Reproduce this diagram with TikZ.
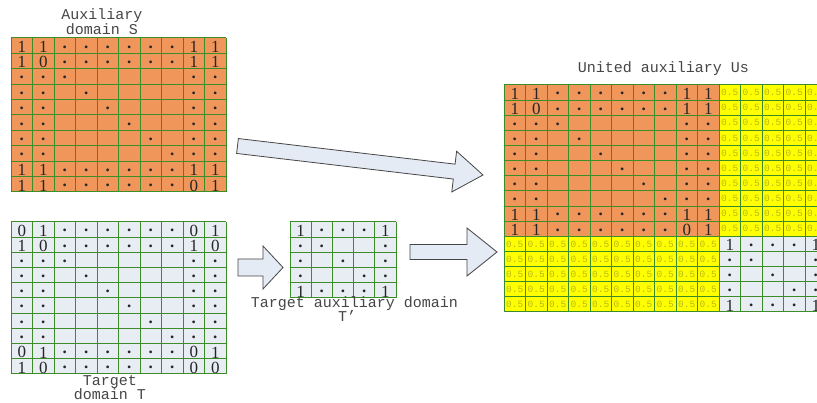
\documentclass[tikz,border=0pt]{standalone}
\usepackage{fontspec}
\setmainfont{Liberation Serif}
\newfontfamily\labelfont{Liberation Mono}
\usetikzlibrary{calc}

\definecolor{cellorange}{RGB}{240,150,90}
\definecolor{cellyellow}{RGB}{255,255,0}
\definecolor{celllight}{RGB}{232,237,243}
\definecolor{gridgreen}{RGB}{60,140,40}
\definecolor{halftext}{RGB}{185,185,20}
\definecolor{labelgray}{RGB}{70,70,70}
\definecolor{arrowfill}{RGB}{228,235,245}
\definecolor{arrowline}{RGB}{70,70,70}

\tikzset{
  gridline/.style={draw=gridgreen, line width=1pt},
  celltxt/.style={inner sep=0pt, font=\fontsize{17}{17}\selectfont, text=black!85},
  halftxt/.style={inner sep=0pt, font=\labelfont\fontsize{9.5}{9.5}\selectfont, text=halftext},
  caption/.style={inner sep=0pt, anchor=base, font=\labelfont\fontsize{15}{15}\selectfont, text=labelgray},
  blockarrow/.style={fill=arrowfill, draw=arrowline, line width=0.8pt, line join=miter},
}

% a dot entry is set heavier than the digits
\def\dotitem{.}
\def\cellentry#1{\ifx#1\dotitem\textbf{.}\else#1\fi}

% grid lines: x0, y0, columns, rows, cell width, cell height
\newcommand\cellgrid[6]{%
  \foreach \i in {0,...,#3} \draw[gridline] ({#1+\i*#5},#2) -- ({#1+\i*#5},{#2+#4*#6});
  \foreach \j in {0,...,#4} \draw[gridline] (#1,{#2+\j*#6}) -- ({#1+#3*#5},{#2+\j*#6});
}
% cell entries: name prefix, x0, y0, cell width, cell height, list of rows
\newcommand\celltext[6]{%
  \foreach \rowlist [count=\r] in #6 {
    \foreach \v [count=\c] in \rowlist {
      \node[celltxt] (#1-\r-\c) at ({#2+(\c-0.5)*#4},{#3+(\r-0.42)*#5}) {\cellentry\v};
    }
  }
}
% block arrow: tail, tip, shaft half width, head half width, head length
\newcommand\blockarrow[5]{%
  \path ($(#2)!#5!(#1)$) coordinate (#2-base);
  \draw[blockarrow] ($(#1)!#3!90:(#2)$) -- ($(#2-base)!#3!90:(#2)$)
    -- ($(#2-base)!#4!90:(#2)$) -- (#2) -- ($(#2-base)!#4!-90:(#2)$)
    -- ($(#2-base)!#3!-90:(#2)$) -- ($(#1)!#3!-90:(#2)$) -- cycle;
}

\newcommand\srows{%
  {1,1,.,.,.,.,.,.,1,1},
  {1,0,.,.,.,.,.,.,1,1},
  {.,.,.,{},{},{},{},{},.,.},
  {.,.,{},.,{},{},{},{},.,.},
  {.,.,{},{},.,{},{},{},.,.},
  {.,.,{},{},{},.,{},{},.,.},
  {.,.,{},{},{},{},.,{},.,.},
  {.,.,{},{},{},{},{},.,.,.},
  {1,1,.,.,.,.,.,.,1,1},
  {1,1,.,.,.,.,.,.,0,1}}
\newcommand\trows{%
  {0,1,.,.,.,.,.,.,0,1},
  {1,0,.,.,.,.,.,.,1,0},
  {.,.,.,{},{},{},{},{},.,.},
  {.,.,{},.,{},{},{},{},.,.},
  {.,.,{},{},.,{},{},{},.,.},
  {.,.,{},{},{},.,{},{},.,.},
  {.,.,{},{},{},{},.,{},.,.},
  {.,.,{},{},{},{},{},.,.,.},
  {0,1,.,.,.,.,.,.,0,1},
  {1,0,.,.,.,.,.,.,0,0}}
\newcommand\tprows{%
  {1,.,.,.,1},
  {.,.,{},{},.},
  {.,{},.,{},.},
  {.,{},{},.,.},
  {1,.,.,.,1}}

\begin{document}
\begin{tikzpicture}[x=1pt,y=-1pt]
\useasboundingbox (0,0) rectangle (817,403);
\clip (0,0) rectangle (817,403);
\fill[white] (0,0) rectangle (817,403);

% auxiliary domain S
\fill[cellorange] (11,38) rectangle (226,192);
\cellgrid{11}{38}{10}{10}{21.5}{15.4}
\celltext{s}{11}{38}{21.5}{15.4}{\srows}
\node[caption] (capS1) at (102,19.5) {Auxiliary};
\node[caption] (capS2) at (102,35) {domain S};

% target domain T
\fill[celllight] (11,222) rectangle (226,374);
\cellgrid{11}{222}{10}{10}{21.5}{15.2}
\celltext{t}{11}{222}{21.5}{15.2}{\trows}
\node[caption] (capT1) at (110,385) {Target};
\node[caption] (capT2) at (110,399.5) {domain T};

% target auxiliary domain T'
\fill[celllight] (290,222) rectangle (396,298);
\cellgrid{290}{222}{5}{5}{21.2}{15.2}
\celltext{tp}{290}{222}{21.2}{15.2}{\tprows}
\node[caption] (capTp1) at (354.5,308) {Target auxiliary domain};
\node[caption] (capTp2) at (347,322) {T’};

% united auxiliary Us
\fill[cellorange] (504,85) rectangle (719,236.33);
\fill[cellyellow] (719,85) rectangle (826.5,236.33);
\fill[cellyellow] (504,236.33) rectangle (719,312);
\fill[celllight] (719,236.33) rectangle (826.5,312);
\foreach \r in {1,...,10} \foreach \c in {11,...,15}
  \node[halftxt] (uh-\r-\c) at ({504+(\c-0.5)*21.5},{85+(\r-0.5)*15.133}) {0.5};
\foreach \r in {11,...,15} \foreach \c in {1,...,10}
  \node[halftxt] (uh-\r-\c) at ({504+(\c-0.5)*21.5},{85+(\r-0.5)*15.133}) {0.5};
\cellgrid{504}{85}{15}{15}{21.5}{15.133}
\celltext{u}{504}{85}{21.5}{15.133}{\srows}
\celltext{v}{719}{236.33}{21.5}{15.133}{\tprows}
\node[caption] (capU) at (663.5,72.7) {United auxiliary Us};

% block arrows
\coordinate (a1) at (237.5,146);
\coordinate (b1) at (483,175);
\blockarrow{a1}{b1}{7.5pt}{20.5pt}{29pt}
\coordinate (a2) at (238,267.5);
\coordinate (b2) at (283,267.5);
\blockarrow{a2}{b2}{8.5pt}{21.5pt}{20pt}
\coordinate (a3) at (410,252);
\coordinate (b3) at (497,252);
\blockarrow{a3}{b3}{7.5pt}{24pt}{30pt}
\end{tikzpicture}
\end{document}
